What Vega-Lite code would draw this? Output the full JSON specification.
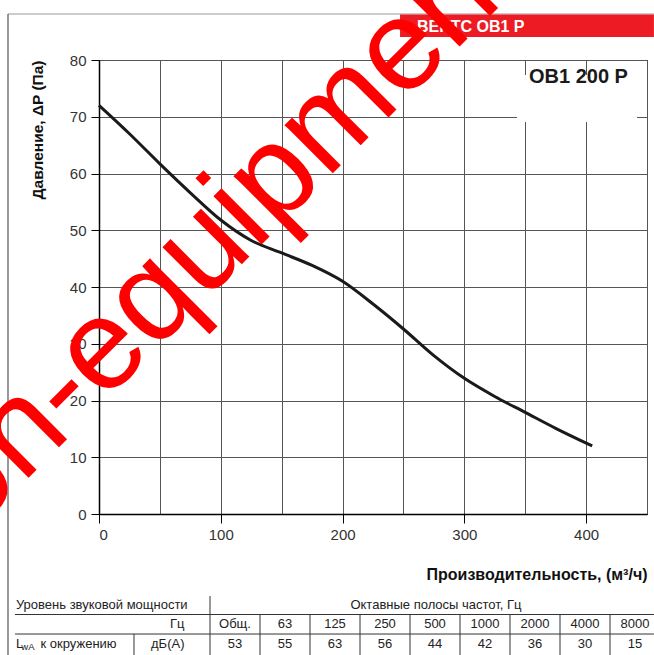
{
  "$schema": "https://vega.github.io/schema/vega-lite/v6.json",
  "width": 548,
  "height": 454,
  "autosize": {"type": "none"},
  "padding": {"left": 99, "top": 60, "right": 7, "bottom": 141},
  "background": "white",
  "config": {
    "font": "Liberation Sans",
    "view": {"stroke": "#000", "strokeWidth": 1}
  },
  "data": {"values": [{}]},
  "layer": [
    {
      "layer": [
        {
          "data": {"values": [
            {"q": 0, "p": 72.0}, {"q": 25, "p": 67.0}, {"q": 50, "p": 61.7},
            {"q": 75, "p": 56.6}, {"q": 100, "p": 51.8}, {"q": 125, "p": 48.2},
            {"q": 150, "p": 46.0}, {"q": 175, "p": 43.8}, {"q": 200, "p": 41.0},
            {"q": 225, "p": 37.0}, {"q": 250, "p": 32.6}, {"q": 275, "p": 27.9},
            {"q": 300, "p": 23.9}, {"q": 325, "p": 20.7}, {"q": 350, "p": 17.9},
            {"q": 375, "p": 15.1}, {"q": 405, "p": 12.0}
          ]},
          "mark": {"type": "line", "interpolate": "monotone", "stroke": "#1a1a1a", "strokeWidth": 3},
          "encoding": {
            "x": {
              "field": "q", "type": "quantitative",
              "scale": {"domain": [0, 450], "nice": false, "zero": false},
              "axis": {
                "values": [0, 50, 100, 150, 200, 250, 300, 350, 400, 450],
                "labelExpr": "datum.value % 100 === 0 && datum.value < 450 ? datum.label : ''",
                "title": "Производительность, (м³/ч)",
                "titleAnchor": "end",
                "titleFontSize": 16,
                "titleFontWeight": "bold",
                "titleColor": "#111",
                "titlePadding": 24,
                "labelFontSize": 15,
                "labelColor": "#333",
                "labelPadding": 4,
                "tickSize": 9,
                "tickColor": "#000",
                "tickOpacity": {"condition": {"test": "datum.value % 100 === 0 && datum.value < 450", "value": 1}, "value": 0},
                "grid": true,
                "gridColor": "#555",
                "gridWidth": 1,
                "domainColor": "#000",
                "domainWidth": 1.5
              }
            },
            "y": {
              "field": "p", "type": "quantitative",
              "scale": {"domain": [0, 80], "nice": false, "zero": false},
              "axis": {
                "values": [0, 10, 20, 30, 40, 50, 60, 70, 80],
                "title": "Давление, ΔP (Па)",
                "titleAnchor": "end",
                "titleFontSize": 15.5,
                "titleFontWeight": "bold",
                "titleColor": "#111",
                "titlePadding": 24,
                "labelFontSize": 15,
                "labelColor": "#333",
                "labelPadding": 5,
                "tickSize": 8,
                "tickColor": "#000",
                "grid": true,
                "gridColor": "#555",
                "gridWidth": 1,
                "domainColor": "#000",
                "domainWidth": 1.5
              }
            }
          }
        },
        {
          "mark": {"type": "rect", "fill": "white"},
          "encoding": {
            "x": {"datum": 343.2, "type": "quantitative"},
            "x2": {"datum": 441.8},
            "y": {"datum": 77.36, "type": "quantitative"},
            "y2": {"datum": 69.08}
          }
        },
        {
          "mark": {"type": "text", "text": "ОВ1 200 Р", "fontSize": 20, "fontWeight": "bold", "align": "center", "baseline": "alphabetic", "color": "#1a1a1a"},
          "encoding": {
            "x": {"datum": 393.7, "type": "quantitative"},
            "y": {"datum": 75.9, "type": "quantitative"}
          }
        },
        {
          "mark": {"type": "rule", "stroke": "#999", "strokeWidth": 1.2},
          "encoding": {
            "x": {"datum": -74.73, "type": "quantitative"},
            "x2": {"datum": 455.7},
            "y": {"datum": 88.11, "type": "quantitative"}
          }
        },
        {
          "mark": {"type": "rule", "stroke": "#555", "strokeWidth": 1.2},
          "encoding": {
            "x": {"datum": -74.73, "type": "quantitative"},
            "y": {"datum": 88.11, "type": "quantitative"},
            "y2": {"datum": -24.85}
          }
        },
        {
          "mark": {"type": "rect", "fill": "#ed1c24"},
          "encoding": {
            "x": {"datum": 247.2, "type": "quantitative"},
            "x2": {"datum": 455.7},
            "y": {"datum": 88.0, "type": "quantitative"},
            "y2": {"datum": 84.05}
          }
        },
        {
          "mark": {"type": "text", "text": "ВЕНТС ОВ1 Р", "fontSize": 16, "fontWeight": "bold", "align": "left", "baseline": "alphabetic", "color": "white"},
          "encoding": {
            "x": {"datum": 261.1, "type": "quantitative"},
            "y": {"datum": 84.93, "type": "quantitative"}
          }
        },
        {
          "mark": {"type": "rule", "stroke": "#333", "strokeWidth": 1},
          "encoding": {
            "x": {"datum": -68.98, "type": "quantitative"},
            "x2": {"datum": 455.7},
            "y": {"datum": -17.71, "type": "quantitative"}
          }
        },
        {
          "mark": {"type": "rule", "stroke": "#333", "strokeWidth": 1},
          "encoding": {
            "x": {"datum": -68.98, "type": "quantitative"},
            "x2": {"datum": 455.7},
            "y": {"datum": -21.15, "type": "quantitative"}
          }
        },
        {
          "mark": {"type": "rule", "stroke": "#333", "strokeWidth": 1},
          "encoding": {
            "x": {"datum": 91.15, "type": "quantitative"},
            "y": {"datum": -14.45, "type": "quantitative"},
            "y2": {"datum": -24.85}
          }
        },
        {
          "mark": {"type": "rule", "stroke": "#333", "strokeWidth": 1},
          "encoding": {
            "x": {"datum": 28.74, "type": "quantitative"},
            "y": {"datum": -21.15, "type": "quantitative"},
            "y2": {"datum": -24.85}
          }
        },
        {
          "mark": {"type": "text", "text": "Уровень звуковой мощности", "fontSize": 13, "align": "left", "baseline": "middle", "color": "#222"},
          "encoding": {
            "x": {"datum": -68.2, "type": "quantitative"},
            "y": {"datum": -16.04, "type": "quantitative"}
          }
        },
        {
          "mark": {"type": "text", "text": "Октавные полосы частот, Гц", "fontSize": 13, "align": "center", "baseline": "middle", "color": "#222"},
          "encoding": {
            "x": {"datum": 276.7, "type": "quantitative"},
            "y": {"datum": -16.04, "type": "quantitative"}
          }
        },
        {
          "mark": {"type": "text", "text": "Гц", "fontSize": 13, "align": "right", "baseline": "middle", "color": "#222"},
          "encoding": {
            "x": {"datum": 70.2, "type": "quantitative"},
            "y": {"datum": -19.47, "type": "quantitative"}
          }
        },
        {
          "mark": {"type": "text", "text": "дБ(А)", "fontSize": 13, "align": "right", "baseline": "middle", "color": "#222"},
          "encoding": {
            "x": {"datum": 70.2, "type": "quantitative"},
            "y": {"datum": -22.91, "type": "quantitative"}
          }
        },
        {
          "mark": {"type": "text", "text": "L", "fontSize": 13, "align": "left", "baseline": "middle", "color": "#222"},
          "encoding": {
            "x": {"datum": -68.2, "type": "quantitative"},
            "y": {"datum": -22.91, "type": "quantitative"}
          }
        },
        {
          "mark": {"type": "text", "text": "wA", "fontSize": 9.5, "align": "left", "baseline": "middle", "dy": 3, "color": "#222"},
          "encoding": {
            "x": {"datum": -63.8, "type": "quantitative"},
            "y": {"datum": -22.91, "type": "quantitative"}
          }
        },
        {
          "mark": {"type": "text", "text": "к окружению", "fontSize": 13, "align": "left", "baseline": "middle", "color": "#222"},
          "encoding": {
            "x": {"datum": -48.0, "type": "quantitative"},
            "y": {"datum": -22.91, "type": "quantitative"}
          }
        },
        {
          "mark": {"type": "text", "text": "equipment.ru", "fontSize": 129, "align": "left", "baseline": "alphabetic", "angle": 315, "color": "#ff0000"},
          "encoding": {
            "x": {"datum": 3.6, "type": "quantitative"},
            "y": {"datum": 19.6, "type": "quantitative"}
          }
        },
        {
          "mark": {"type": "text", "text": "ventilation-", "fontSize": 129, "align": "right", "baseline": "alphabetic", "angle": 315, "color": "#ff0000"},
          "encoding": {
            "x": {"datum": 3.6, "type": "quantitative"},
            "y": {"datum": 19.6, "type": "quantitative"}
          }
        }
      ]
    },
    {
      "data": {"values": [
        {"band": "Общ.", "lwa": 53}, {"band": "63", "lwa": 55}, {"band": "125", "lwa": 63},
        {"band": "250", "lwa": 56}, {"band": "500", "lwa": 44}, {"band": "1000", "lwa": 42},
        {"band": "2000", "lwa": 36}, {"band": "4000", "lwa": 30}, {"band": "8000", "lwa": 15}
      ]},
      "encoding": {
        "x": {
          "field": "band", "type": "nominal", "sort": null,
          "scale": {"type": "band", "domain": ["Общ.", "63", "125", "250", "500", "1000", "2000", "4000", "8000"], "range": [111, 561], "paddingInner": 0, "paddingOuter": 0},
          "axis": null
        }
      },
      "layer": [
        {
          "mark": {"type": "text", "fontSize": 13, "baseline": "middle", "color": "#222"},
          "encoding": {
            "text": {"field": "band"},
            "y": {"datum": -19.47, "type": "quantitative"}
          }
        },
        {
          "mark": {"type": "text", "fontSize": 13, "baseline": "middle", "color": "#222"},
          "encoding": {
            "text": {"field": "lwa"},
            "y": {"datum": -22.91, "type": "quantitative"}
          }
        },
        {
          "transform": [{"filter": "datum.band !== 'Общ.'"}],
          "mark": {"type": "rule", "stroke": "#333", "strokeWidth": 1},
          "encoding": {
            "x": {"field": "band", "type": "nominal", "bandPosition": 0},
            "y": {"datum": -17.71, "type": "quantitative"},
            "y2": {"datum": -24.85}
          }
        }
      ]
    }
  ],
  "resolve": {"scale": {"x": "independent"}, "axis": {"x": "independent"}}
}
